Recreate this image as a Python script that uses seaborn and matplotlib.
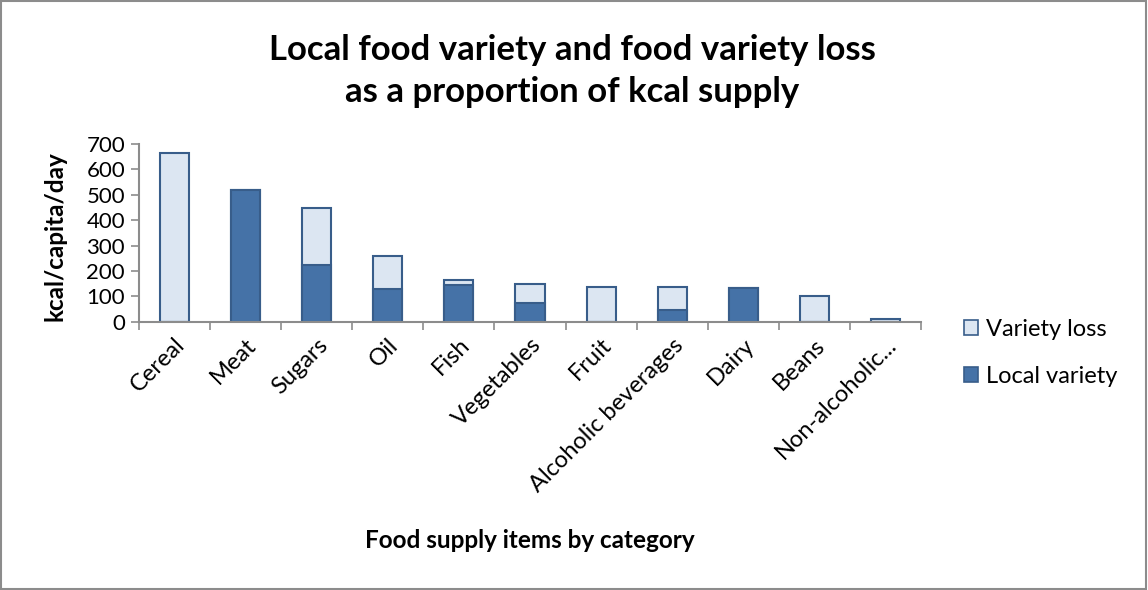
import numpy as np
import pandas as pd
import matplotlib
matplotlib.use("Agg")
import matplotlib.pyplot as plt
import seaborn as sns
from matplotlib.patches import Patch, Rectangle

# Data (kcal/capita/day)
categories = ["Cereal", "Meat", "Sugars", "Oil", "Fish", "Vegetables", "Fruit",
              "Alcoholic beverages", "Dairy", "Beans", "Non-alcoholic..."]
local_variety = [0, 519, 223, 129, 144, 75, 0, 45, 133, 0, 0]
variety_loss = [663, 0, 224, 129, 20, 75, 138, 90, 0, 100, 12]

df = pd.DataFrame({"category": categories,
                   "local": local_variety,
                   "loss": variety_loss})
df["total"] = df["local"] + df["loss"]

light = "#DCE6F2"
dark = "#4572A7"
edge = "#385D8A"
grey = "#8C8C8C"

sns.set_theme(style="white")
plt.rcParams["font.family"] = ["Lato", "DejaVu Sans"]
plt.rcParams["text.color"] = "black"
plt.rcParams["xtick.color"] = "black"
plt.rcParams["ytick.color"] = "black"

fig = plt.figure(figsize=(11.48, 5.9), dpi=100)
ax = fig.add_axes([139 / 1148, 1 - 321.7 / 590, (921 - 139) / 1148, (321.7 - 144) / 590])

# stacked bars: totals first (light), local variety on top (dark)
sns.barplot(data=df, x="category", y="total", color=light, saturation=1,
            width=0.41, edgecolor=edge, linewidth=1.5, ax=ax)
sns.barplot(data=df, x="category", y="local", color=dark, saturation=1,
            width=0.41, edgecolor=edge, linewidth=1.5, ax=ax)

ax.set_xlim(-0.5, len(categories) - 0.5)
ax.set_ylim(0, 700)
ax.set_yticks(np.arange(0, 701, 100))
ax.tick_params(axis="y", labelsize=16, length=6, width=1.2, color=grey, pad=4,
               left=True, labelcolor="black")

# category labels at bar centres, tick marks at category boundaries
ax.set_xticks(np.arange(len(categories)))
ax.set_xticklabels(categories, rotation=45, ha="right", va="top",
                   rotation_mode="anchor", fontsize=17, color="black")
ax.tick_params(axis="x", which="major", length=0, pad=9)
ax.set_xticks(np.arange(-0.5, len(categories)), minor=True)
ax.tick_params(axis="x", which="minor", length=6, width=1.2, color=grey,
               bottom=True)

for side in ["top", "right"]:
    ax.spines[side].set_visible(False)
for side in ["left", "bottom"]:
    ax.spines[side].set_color(grey)
    ax.spines[side].set_linewidth(1.5)

ax.set_xlabel("")
ax.set_ylabel("")
fig.text(55 / 1148, 1 - 236 / 590, "kcal/capita/day", rotation=90,
         ha="center", va="center", fontsize=17.5, fontweight="bold")
fig.text(530 / 1148, 1 - 541 / 590, "Food supply items by category",
         ha="center", va="center", fontsize=17.5, fontweight="bold")

fig.text(572 / 1148, 1 - 71 / 590,
         "Local food variety and food variety loss\nas a proportion of kcal supply",
         ha="center", va="center", fontsize=25, fontweight="bold",
         linespacing=1.4)

handles = [Patch(facecolor=light, edgecolor=edge, linewidth=1.2, label="Variety loss"),
           Patch(facecolor=dark, edgecolor=edge, linewidth=1.2, label="Local variety")]
fig.legend(handles=handles, loc="upper left",
           bbox_to_anchor=(943 / 1148, 1 - 298 / 590), frameon=False,
           fontsize=17, handlelength=0.6, handleheight=0.6, handletextpad=0.3,
           labelspacing=1.1)

# outer chart border
fig.patches.append(Rectangle((0.001, 0.002), 0.997, 0.996, transform=fig.transFigure,
                             fill=False, edgecolor=grey, linewidth=1.5))

fig.savefig("out.png", dpi=100)
